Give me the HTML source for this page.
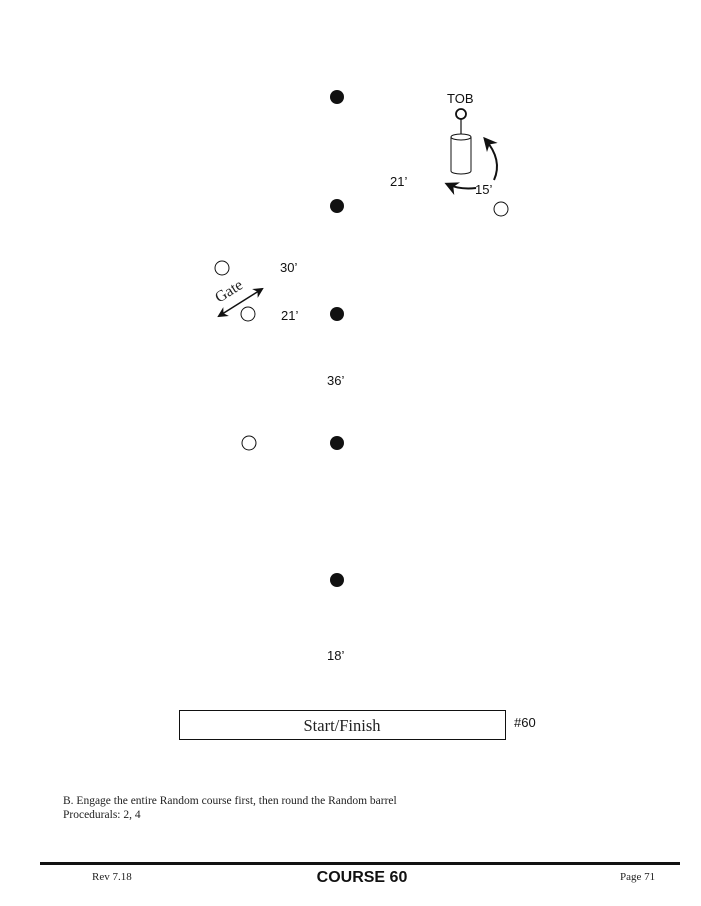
<!DOCTYPE html>
<html><head><meta charset="utf-8"><style>
body{margin:0;background:#fff;width:701px;height:906px;overflow:hidden}
svg{display:block}
.s{font-family:"Liberation Sans",sans-serif;font-size:13px;fill:#111}
.r{font-family:"Liberation Serif",serif;fill:#222}
</style></head><body>
<svg width="701" height="906" viewBox="0 0 701 906" xmlns="http://www.w3.org/2000/svg">
<defs>
<marker id="ah" viewBox="0 0 10 10" refX="8" refY="5" markerWidth="7" markerHeight="7" orient="auto-start-reverse">
<path d="M0,0 L10,5 L0,10 L3,5 z" fill="#111"/></marker>
</defs>
<g fill="#111">
<circle cx="337" cy="97" r="7"/>
<circle cx="337" cy="206" r="7"/>
<circle cx="337" cy="314" r="7"/>
<circle cx="337" cy="443" r="7"/>
<circle cx="337" cy="580" r="7"/>
</g>
<g fill="#fff" stroke="#111" stroke-width="1">
<circle cx="222" cy="268" r="7"/>
<circle cx="248" cy="314" r="7"/>
<circle cx="249" cy="443" r="7"/>
<circle cx="501" cy="209" r="7"/>
</g>
<circle cx="461" cy="114" r="5" fill="#fff" stroke="#111" stroke-width="1.8"/>
<line x1="461" y1="119" x2="461" y2="137" stroke="#111" stroke-width="1.2"/>
<path d="M451,137 L451,171 A10,3 0 0 0 471,171 L471,137" fill="#fff" stroke="#111" stroke-width="1"/>
<ellipse cx="461" cy="137" rx="10" ry="3" fill="#fff" stroke="#111" stroke-width="1"/>
<path d="M494,180 Q503,160 485,139" fill="none" stroke="#111" stroke-width="2" marker-end="url(#ah)"/>
<path d="M476,188 Q460,190 447,184" fill="none" stroke="#111" stroke-width="2" marker-end="url(#ah)"/>
<text class="s" x="447" y="103">TOB</text>
<text class="s" x="390" y="186">21’</text>
<text class="s" x="475" y="194">15’</text>
<text class="s" x="280" y="272">30’</text>
<text class="s" x="281" y="320">21’</text>
<text class="s" x="327" y="385">36’</text>
<text class="s" x="327" y="660">18’</text>
<line x1="219" y1="316" x2="262" y2="289" stroke="#111" stroke-width="1.5" marker-start="url(#ah)" marker-end="url(#ah)"/>
<text class="r" font-size="15.5" fill="#111" transform="translate(219,303) rotate(-32)">Gate</text>
<rect x="179.5" y="710.5" width="326" height="29" fill="#fff" stroke="#111" stroke-width="1"/>
<text class="r" x="342" y="731" font-size="16.5" text-anchor="middle">Start/Finish</text>
<text class="s" x="514" y="727">#60</text>
<text class="r" x="63" y="804" font-size="11.5">B. Engage the entire Random course first, then round the Random barrel</text>
<text class="r" x="63" y="818" font-size="11.5">Procedurals: 2, 4</text>
<rect x="40" y="862" width="640" height="3" fill="#111"/>
<text class="r" x="92" y="880" font-size="11">Rev 7.18</text>
<text x="362" y="882" font-family="Liberation Sans,sans-serif" font-weight="bold" font-size="16" text-anchor="middle" fill="#111">COURSE 60</text>
<text class="r" x="620" y="880" font-size="11">Page 71</text>
</svg>
</body></html>
